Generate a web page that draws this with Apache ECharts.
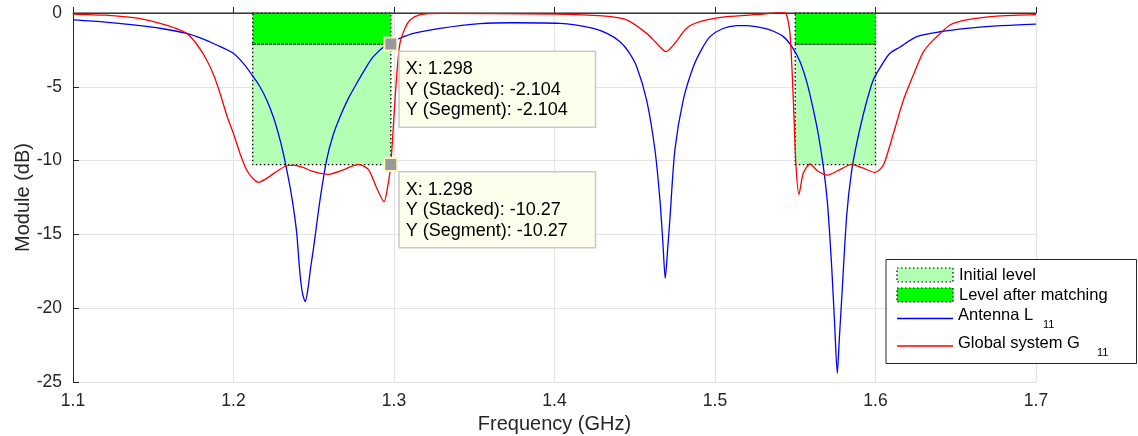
<!DOCTYPE html>
<html>
<head>
<meta charset="utf-8">
<script src="https://cdn.jsdelivr.net/npm/echarts@6/dist/echarts.min.js"></script>
<style>html,body{margin:0;padding:0;background:#fff}#c{width:1138px;height:436px}</style>
</head>
<body>
<div id="c"></div>
<script>
// ---------- data ----------
const xTicks = [1.1, 1.2, 1.3, 1.4, 1.5, 1.6, 1.7];
const yTicks = [0, -5, -10, -15, -20, -25];

const antennaFreq = [1.100,1.120,1.1376,1.155,1.1708,1.180,1.1895,1.1999,1.206,1.2123,1.2165,1.2207,1.225,1.229,1.232,1.2352,1.2375,1.2394,1.2414,1.243,1.2447,1.2465,1.248,1.2497,1.2539,1.258,1.262,1.2664,1.2715,1.2768,1.282,1.2871,1.2965,1.304,1.312,1.3287,1.3536,1.374,1.4034,1.4242,1.433,1.4408,1.446,1.4512,1.4574,1.4626,1.4657,1.4675,1.469,1.4705,1.472,1.475,1.4802,1.4865,1.492,1.4969,1.505,1.5135,1.520,1.528,1.5343,1.5426,1.548,1.553,1.5575,1.5613,1.5645,1.5675,1.570,1.5727,1.5745,1.5762,1.5775,1.5789,1.582,1.585,1.5883,1.5935,1.5986,1.604,1.609,1.6153,1.6257,1.6402,1.6568,1.6776,1.700];
const antennaL11 = [-0.47,-0.62,-0.81,-1.05,-1.38,-1.72,-2.17,-2.73,-3.4,-4.31,-5.0,-5.9,-7.1,-8.6,-10.0,-11.77,-13.3,-14.93,-17.63,-19.0,-19.56,-18.6,-17.3,-16.06,-12.67,-9.96,-8.3,-7.03,-5.8,-4.76,-3.8,-2.96,-2.05,-1.7,-1.38,-1.04,-0.72,-0.66,-0.70,-1.04,-1.4,-1.94,-2.6,-3.64,-5.9,-9.28,-12.67,-15.5,-17.97,-16.0,-13.8,-9.28,-5.9,-3.64,-2.4,-1.6,-1.05,-0.86,-0.85,-0.97,-1.15,-1.6,-2.3,-3.3,-4.8,-6.57,-8.3,-10.41,-12.8,-17.19,-21.0,-24.41,-22.0,-19.44,-13.8,-10.8,-8.83,-6.4,-4.54,-3.5,-2.73,-2.3,-1.6,-1.27,-1.04,-0.86,-0.75];

const globalFreq = [1.100,1.120,1.140,1.1542,1.163,1.1708,1.177,1.1833,1.188,1.1916,1.196,1.1999,1.204,1.2082,1.212,1.2155,1.220,1.226,1.232,1.2373,1.243,1.250,1.2591,1.268,1.2778,1.284,1.289,1.2938,1.296,1.298,1.3006,1.302,1.3037,1.307,1.310,1.316,1.330,1.400,1.430,1.445,1.4574,1.4636,1.4695,1.475,1.4823,1.4907,1.5073,1.530,1.5405,1.544,1.5467,1.5488,1.5505,1.5523,1.555,1.5592,1.564,1.570,1.578,1.5851,1.592,1.5997,1.6049,1.6112,1.6174,1.6257,1.630,1.636,1.6402,1.6464,1.6568,1.6776,1.700];
const globalG11 = [-0.07,-0.15,-0.35,-0.70,-1.0,-1.38,-2.1,-3.18,-4.3,-5.44,-7.0,-8.15,-9.5,-10.64,-11.2,-11.47,-11.25,-10.8,-10.40,-10.30,-10.45,-10.75,-10.93,-10.65,-10.25,-10.6,-11.8,-12.78,-11.8,-10.27,-5.9,-3.8,-2.05,-1.0,-0.47,-0.12,-0.03,-0.07,-0.2,-0.47,-1.38,-2.05,-2.62,-2.05,-1.04,-0.59,-0.25,-0.08,0.05,0.0,-1.38,-5.9,-10.4,-12.29,-10.86,-10.23,-10.7,-10.98,-10.6,-10.25,-10.5,-10.8,-10.3,-8.15,-5.9,-3.64,-2.6,-1.83,-1.4,-0.81,-0.47,-0.2,-0.11];

const bandStart = [1.212, 1.550];
const bandEnd = [1.298, 1.600];
const initialLevel = -10.27;
const matchedLevel = -2.104;

const tipX = ['1.298', '1.298'];
const tipY = ['-2.104', '-10.27'];

// ---------- build ----------
const pairs = (xs, ys) => xs.map((x, i) => [x, ys[i]]);
const FONT = '"Liberation Sans", Arial, Helvetica, sans-serif';
const TXT = '#262626';

const initialAreas = bandStart.map((s, i) => [{coord: [s, matchedLevel]}, {coord: [bandEnd[i], initialLevel]}]);
const matchedAreas = bandStart.map((s, i) => [{coord: [s, 0]}, {coord: [bandEnd[i], matchedLevel]}]);

const tipPoints = tipX.map((x, i) => ({
  coord: [parseFloat(x), parseFloat(tipY[i])],
  value: 'X: ' + x + '\nY (Stacked): ' + tipY[i] + '\nY (Segment): ' + tipY[i]
}));

const chart = echarts.init(document.getElementById('c'), null, {renderer: 'canvas'});
chart.setOption({
  animation: false,
  backgroundColor: '#fff',
  textStyle: {fontFamily: FONT},
  grid: {left: 73, right: 102, top: 13, bottom: 54, containLabel: false, outerBoundsMode: 'none'},
  xAxis: {
    type: 'value', min: xTicks[0], max: xTicks[xTicks.length - 1], interval: 0.1,
    name: 'Frequency (GHz)', nameLocation: 'middle', nameGap: 32, nameMoveOverlap: false,
    nameTextStyle: {fontSize: 20, color: TXT, fontFamily: FONT},
    axisLine: {lineStyle: {color: TXT, width: 1}},
    axisTick: {inside: true, length: 6, lineStyle: {color: TXT}},
    axisLabel: {fontSize: 17.5, color: TXT, margin: 10, fontFamily: FONT, formatter: v => v.toFixed(1)},
    splitLine: {show: true, lineStyle: {color: '#e3e3e3', width: 1.2}}
  },
  yAxis: {
    type: 'value', min: yTicks[yTicks.length - 1], max: yTicks[0], interval: 5,
    name: 'Module (dB)', nameLocation: 'middle', nameGap: 40, nameRotate: 90, nameMoveOverlap: false,
    nameTextStyle: {fontSize: 20, color: TXT, fontFamily: FONT},
    axisLine: {show: true, lineStyle: {color: TXT, width: 1}},
    axisTick: {show: true, inside: true, length: 6, lineStyle: {color: TXT}},
    axisLabel: {fontSize: 17.5, color: TXT, margin: 11, fontFamily: FONT},
    splitLine: {show: true, lineStyle: {color: '#e3e3e3', width: 1.2}}
  },
  series: [
    {
      name: 'Initial level', type: 'line', data: [], z: 1,
      markArea: {silent: true, itemStyle: {color: '#b3ffb3', borderColor: '#000', borderWidth: 1.3, borderType: [1.5, 2.5]}, data: initialAreas}
    },
    {
      name: 'Level after matching', type: 'line', data: [], z: 1,
      markArea: {silent: true, itemStyle: {color: '#00ff00', borderColor: '#000', borderWidth: 1.3, borderType: [1.5, 2.5]}, data: matchedAreas}
    },
    {
      name: 'baseline', type: 'line', data: [[xTicks[0], 0], [xTicks[xTicks.length - 1], 0]],
      symbol: 'none', silent: true, z: 2, lineStyle: {color: '#3c3c3c', width: 1.6}
    },
    {
      name: 'Antenna L11', type: 'line', data: pairs(antennaFreq, antennaL11), symbol: 'none', smooth: 0.25, z: 3,
      lineStyle: {color: '#0000ff', width: 1.3}
    },
    {
      name: 'Global system G11', type: 'line', data: pairs(globalFreq, globalG11), symbol: 'none', smooth: 0.25, z: 4,
      lineStyle: {color: '#ff0000', width: 1.3}
    },
    {
      name: 'tips', type: 'line', data: [], z: 10,
      markPoint: {
        symbol: 'rect', symbolSize: 13, silent: true,
        itemStyle: {color: '#999999', borderColor: '#fbf7c4', borderWidth: 2},
        label: {
          show: true, position: [16.5, 15.5], align: 'left', verticalAlign: 'top',
          formatter: p => p.value,
          fontSize: 18, lineHeight: 20.5, color: '#000', fontFamily: FONT,
          backgroundColor: '#fefeec', borderColor: '#c9c9c9', borderWidth: 1.5,
          padding: [7, 8, 6, 6], width: 181
        },
        data: tipPoints
      }
    }
  ],
  graphic: [
    {type: 'rect', shape: {x: 886, y: 259.5, width: 250.5, height: 104}, style: {fill: '#fff', stroke: '#262626', lineWidth: 1}, z: 20},
    {type: 'rect', shape: {x: 897, y: 268, width: 56, height: 14}, style: {fill: '#b3ffb3', stroke: '#000', lineWidth: 1.2, lineDash: [1.5, 2.5]}, z: 21},
    {type: 'text', x: 959, y: 275, style: {text: 'Initial level', font: '16.5px ' + FONT, fill: '#000', verticalAlign: 'middle'}, z: 21},
    {type: 'rect', shape: {x: 897, y: 288, width: 56, height: 14}, style: {fill: '#00ff00', stroke: '#000', lineWidth: 1.2, lineDash: [1.5, 2.5]}, z: 21},
    {type: 'text', x: 959, y: 295.5, style: {text: 'Level after matching', font: '16.5px ' + FONT, fill: '#000', verticalAlign: 'middle'}, z: 21},
    {type: 'line', shape: {x1: 897, y1: 318.5, x2: 953, y2: 318.5}, style: {stroke: '#0000ff', lineWidth: 1.3}, z: 21},
    {type: 'text', x: 958, y: 315, style: {text: 'Antenna L', font: '16.5px ' + FONT, fill: '#000', verticalAlign: 'middle'}, z: 21},
    {type: 'text', x: 1043, y: 325, style: {text: '11', font: '11px ' + FONT, fill: '#000', verticalAlign: 'middle'}, z: 21},
    {type: 'line', shape: {x1: 897, y1: 346, x2: 953, y2: 346}, style: {stroke: '#ff0000', lineWidth: 1.3}, z: 21},
    {type: 'text', x: 958, y: 343, style: {text: 'Global system G', font: '16.5px ' + FONT, fill: '#000', verticalAlign: 'middle'}, z: 21},
    {type: 'text', x: 1097, y: 353, style: {text: '11', font: '11px ' + FONT, fill: '#000', verticalAlign: 'middle'}, z: 21}
  ]
});
</script>
</body>
</html>
